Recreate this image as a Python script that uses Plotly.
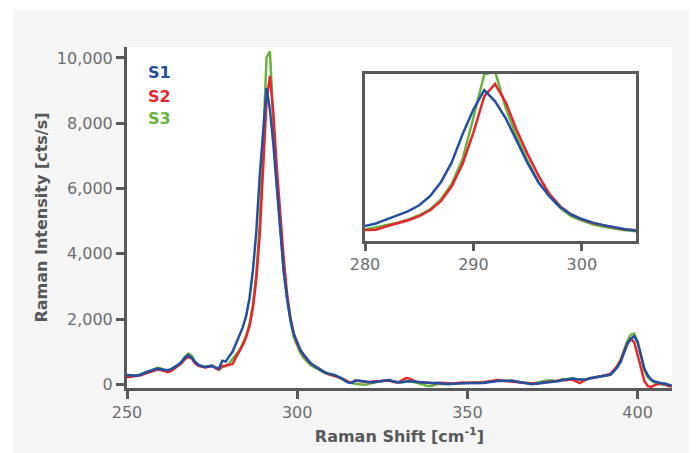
import plotly.graph_objects as go

shift = list(range(250, 411))

s1 = [290, 280, 270, 270, 300, 350, 390, 420, 460, 490,
      470, 450, 440, 470, 530, 600, 690, 820, 900, 830,
      690, 600, 560, 540, 560, 570, 520, 490, 730, 700,
      860, 1000, 1250, 1500, 1750, 2100, 2650, 3500, 4700, 6400,
      7900, 9080, 8400, 7350, 6050, 4650, 3500, 2650, 2000, 1550,
      1270, 1050, 900, 770, 650, 570, 500, 450, 380, 340,
      320, 290, 240, 200, 120, 60, 50, 110, 120, 100,
      90, 70, 60, 80, 100, 110, 120, 140, 100, 80,
      60, 80, 100, 110, 90, 80, 70, 55, 60, 40,
      40, 50, 30, 20, 15, 15, 20, 30, 40, 40,
      40, 50, 45, 50, 60, 45, 70, 90, 100, 110,
      110, 120, 130, 120, 100, 80, 60, 40, 20, 10,
      20, 30, 40, 50, 60, 70, 90, 110, 140, 150,
      160, 180, 160, 150, 140, 150, 190, 210, 220, 240,
      250, 270, 300, 400, 520, 680, 950, 1250, 1400, 1480,
      1300, 850, 480, 280, 150, 90, 60, 40, 30, 0, -40]

s2 = [220, 230, 240, 250, 280, 320, 350, 390, 430, 460,
      440, 400, 380, 420, 490, 560, 650, 770, 850, 800,
      650, 570, 540, 520, 540, 580, 500, 460, 560, 580,
      580, 620, 830, 1000, 1200, 1450, 1800, 2350, 3250, 4600,
      6500, 8700, 9450, 8300, 6650, 5200, 3900, 2800, 2050, 1550,
      1250, 1030, 880, 750, 640, 570, 500, 440, 380, 330,
      300, 270, 230, 190, 140, 80, 60, 120, 110, 90,
      80, 70, 90, 100, 90, 100, 110, 120, 90, 60,
      80, 130, 200, 180, 120, 80, 70, 60, 50, 40,
      40, 40, 50, 40, 30, 20, 30, 50, 60, 60,
      50, 60, 60, 50, 60, 60, 90, 110, 130, 140,
      120, 110, 120, 110, 90, 70, 50, 40, 40, 30,
      30, 40, 60, 70, 80, 100, 110, 130, 140, 130,
      150, 140, 90, 40, 100, 160, 200, 210, 230, 250,
      260, 290, 330, 430, 560, 750, 1000, 1250, 1400, 1300,
      900, 450, 100, -50, -70, -20, 20, 40, 10, -50, -60]

s3 = [240, 250, 260, 280, 320, 360, 400, 440, 480, 510,
      490, 440, 420, 460, 530, 600, 700, 850, 950, 880,
      700, 600, 560, 540, 560, 570, 520, 450, 540, 560,
      640, 780, 920, 1050, 1250, 1500, 1850, 2450, 3400, 4900,
      7400, 10020, 10200, 7950, 6250, 4800, 3500, 2650, 1950, 1450,
      1170, 950, 800, 680, 590, 530, 470, 420, 360, 320,
      300, 270, 230, 170, 120, 80, 40, 20, 10, 0,
      -10, 20, 50, 70, 90, 110, 120, 130, 100, 80,
      60, 70, 90, 100, 80, 60, 40, 0, -40, -50,
      -30, 10, 20, 10, 0, 10, 20, 30, 40, 50,
      50, 60, 60, 70, 70, 60, 80, 100, 110, 120,
      120, 120, 120, 110, 100, 80, 60, 50, 40, 30,
      40, 70, 100, 120, 130, 120, 110, 130, 170, 160,
      180, 190, 150, 140, 150, 170, 200, 210, 230, 240,
      250, 280, 320, 420, 560, 750, 1050, 1350, 1520, 1560,
      1300, 820, 420, 220, 120, 60, 20, 0, -10, -30, -50]

series_names = ["S1", "S2", "S3"]
colors = {"S1": "#2350a0", "S2": "#e5262b", "S3": "#6ab43e"}
data = {"S1": s1, "S2": s2, "S3": s3}

main_ticks = [0, 2000, 4000, 6000, 8000, 10000]
main_xticks = [250, 300, 350, 400]
inset_xticks = [280, 290, 300]

AX = "#58595b"
TXT = "#6d6e70"
FONT = "DejaVu Sans, Liberation Sans, sans-serif"

fig = go.Figure()
for name in ["S3", "S2", "S1"]:
    fig.add_trace(go.Scatter(x=shift, y=data[name], mode="lines", name=name,
                             line=dict(color=colors[name], width=2.5),
                             xaxis="x", yaxis="y", showlegend=False))
for name in ["S3", "S2", "S1"]:
    fig.add_trace(go.Scatter(x=shift, y=data[name], mode="lines", name=name,
                             line=dict(color=colors[name], width=2.5),
                             xaxis="x2", yaxis="y2", showlegend=False))

OFF = 8  # page body margin
W, H = 697 - OFF, 453 - OFF
L, R, T, B = 127 - OFF, 25, 47 - OFF, 65
pw, ph = W - L - R, H - T - B

def px_x(p):
    return (p - OFF - L) / pw

def px_y(p):
    return (H - B - (p - OFF)) / ph

fig.update_layout(
    width=W, height=H,
    margin=dict(l=L, r=R, t=T, b=B),
    paper_bgcolor="white",
    plot_bgcolor="white",
    font=dict(family=FONT, size=16, color=TXT),
    xaxis=dict(range=[250, 410.1], tickvals=main_xticks, ticks="outside", ticklen=8,
               tickwidth=2.5, tickcolor=AX, showline=True, linecolor=AX, linewidth=3,
               showgrid=False, zeroline=False, automargin=False,
               tickfont=dict(size=16, color=TXT),
               title=dict(text="<b>Raman Shift [cm<sup>-1</sup>]</b>", standoff=10,
                          font=dict(size=16, color=AX))),
    yaxis=dict(range=[-107, 10336], tickvals=main_ticks, tickformat=",", ticks="outside",
               ticklen=8, tickwidth=2.5, tickcolor=AX, showline=True, linecolor=AX,
               linewidth=3, showgrid=False, zeroline=False, automargin=False,
               ticksuffix="\u00a0",
               tickfont=dict(size=16, color=TXT),
               title=dict(text="<b>Raman Intensity [cts/s]</b>", standoff=6,
                          font=dict(size=16, color=AX))),
    xaxis2=dict(domain=[px_x(365), px_x(636)], anchor="y2", range=[280, 305],
                tickvals=inset_xticks, ticks="outside", ticklen=7, tickwidth=2.5,
                tickcolor=AX, showline=True, mirror=True, linecolor=AX, linewidth=3,
                showgrid=False, zeroline=False, tickfont=dict(size=16, color=TXT)),
    yaxis2=dict(domain=[px_y(241), px_y(74)], anchor="x2", range=[-60, 10050],
                showticklabels=False, ticks="", showline=True, mirror=True,
                linecolor=AX, linewidth=3, showgrid=False, zeroline=False),
    shapes=[
        dict(type="rect", xref="paper", yref="paper", layer="below",
             x0=px_x(13), x1=px_x(692), y0=px_y(470), y1=px_y(10),
             fillcolor="#f6f6f6", line=dict(width=0)),
        dict(type="rect", xref="paper", yref="paper", layer="below",
             x0=0, x1=1, y0=0, y1=1, fillcolor="white", line=dict(width=0)),
    ],
)

label_y = [72.5, 96, 118.5]
for name, yy in zip(series_names, label_y):
    fig.add_annotation(text="<b>" + name + "</b>", xref="paper", yref="paper",
                       x=px_x(146), y=px_y(yy), xanchor="left", yanchor="middle",
                       showarrow=False, font=dict(size=16, color=colors[name], family=FONT))

fig.write_html("out.html")
